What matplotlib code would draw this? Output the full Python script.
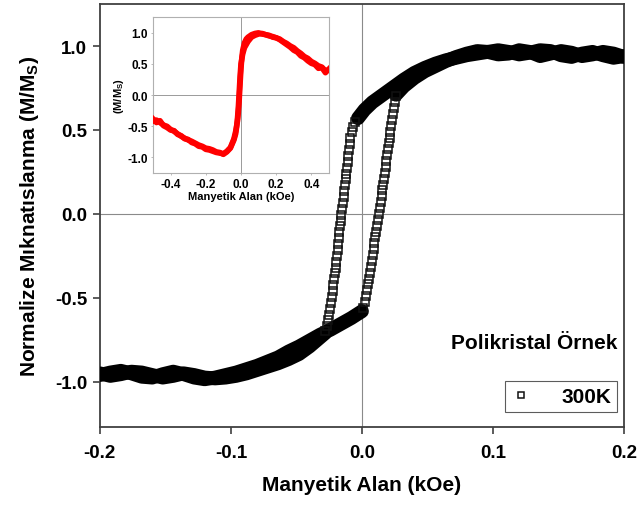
import numpy as np
import matplotlib
matplotlib.use('Agg')
import matplotlib.pyplot as plt

plt.rcParams['font.family'] = ['Liberation Sans', 'DejaVu Sans']
plt.rcParams['font.weight'] = 'bold'
plt.rcParams['mathtext.fontset'] = 'custom'
plt.rcParams['mathtext.rm'] = 'Liberation Sans:bold'
plt.rcParams['mathtext.it'] = 'Liberation Sans:bold'
plt.rcParams['mathtext.bf'] = 'Liberation Sans:bold'

# --- main loop, 300K (field in kOe, M/Ms) ---
# upper branch, field going down from +0.2
h_dn_top = [0.200, 0.192, 0.184, 0.176, 0.168, 0.160, 0.152, 0.144, 0.136, 0.128,
            0.120, 0.112, 0.104, 0.096, 0.088, 0.080, 0.072, 0.064, 0.056, 0.048,
            0.040, 0.032, 0.024, 0.016, 0.008, 0.002, -0.003]
m_dn_top = [0.94, 0.93, 0.945, 0.965, 0.955, 0.935, 0.945, 0.97, 0.975, 0.96,
            0.95, 0.965, 0.975, 0.965, 0.955, 0.945, 0.93, 0.915, 0.895, 0.87,
            0.84, 0.80, 0.755, 0.71, 0.665, 0.62, 0.57]
# switching part of the down branch
h_dn_sw = [-0.0055, -0.0068, -0.0078, -0.0088, -0.0094, -0.0100, -0.0105, -0.0110, -0.0115, -0.0119,
           -0.0123, -0.0128, -0.0133, -0.0139, -0.0145, -0.0151, -0.0157, -0.0162, -0.0167, -0.0172,
           -0.0176, -0.0181, -0.0186, -0.0191, -0.0196, -0.0201, -0.0206, -0.0212, -0.0218, -0.0224,
           -0.0230, -0.0236, -0.0243, -0.0250, -0.0258, -0.0267, -0.0278]
m_dn_sw = [0.55, 0.52, 0.485, 0.45, 0.415, 0.38, 0.345, 0.31, 0.275, 0.24,
           0.205, 0.17, 0.135, 0.10, 0.065, 0.03, -0.005, -0.04, -0.075, -0.11,
           -0.145, -0.18, -0.215, -0.25, -0.285, -0.32, -0.355, -0.39, -0.425, -0.46,
           -0.495, -0.53, -0.565, -0.60, -0.635, -0.67, -0.70]
h_dn_bot = [-0.028, -0.034, -0.040, -0.048, -0.056, -0.064, -0.072, -0.080, -0.088, -0.096,
            -0.104, -0.112, -0.120, -0.128, -0.136, -0.144, -0.152, -0.160, -0.168, -0.176,
            -0.184, -0.192, -0.200]
m_dn_bot = [-0.71, -0.75, -0.79, -0.835, -0.865, -0.89, -0.91, -0.93, -0.95, -0.965,
            -0.975, -0.98, -0.975, -0.96, -0.95, -0.965, -0.975, -0.96, -0.945, -0.94,
            -0.955, -0.965, -0.95]

# lower branch, field going up from -0.2
h_up_bot = [-0.200, -0.192, -0.184, -0.176, -0.168, -0.160, -0.152, -0.144, -0.136, -0.128,
            -0.120, -0.112, -0.104, -0.096, -0.088, -0.080, -0.072, -0.064, -0.056, -0.048,
            -0.040, -0.032, -0.024, -0.016, -0.008, 0.000]
m_up_bot = [-0.96, -0.945, -0.935, -0.95, -0.97, -0.975, -0.955, -0.94, -0.955, -0.975,
            -0.985, -0.975, -0.96, -0.945, -0.925, -0.905, -0.88, -0.855, -0.82, -0.79,
            -0.755, -0.72, -0.69, -0.655, -0.62, -0.58]
h_up_sw = [0.0008, 0.0020, 0.0030, 0.0039, 0.0047, 0.0054, 0.0061, 0.0068, 0.0075, 0.0082,
           0.0089, 0.0096, 0.0103, 0.0110, 0.0117, 0.0124, 0.0131, 0.0138, 0.0145, 0.0151,
           0.0157, 0.0163, 0.0169, 0.0175, 0.0181, 0.0187, 0.0193, 0.0199, 0.0205, 0.0211,
           0.0217, 0.0223, 0.0229, 0.0236, 0.0243, 0.0251, 0.0260]
m_up_sw = [-0.56, -0.525, -0.49, -0.455, -0.42, -0.385, -0.35, -0.315, -0.28, -0.245,
           -0.21, -0.175, -0.14, -0.105, -0.07, -0.035, 0.0, 0.035, 0.07, 0.105,
           0.14, 0.175, 0.21, 0.245, 0.28, 0.315, 0.35, 0.385, 0.42, 0.455,
           0.49, 0.525, 0.56, 0.595, 0.63, 0.665, 0.70]
h_up_top = [0.026, 0.032, 0.040, 0.048, 0.056, 0.064, 0.072, 0.080, 0.088, 0.096,
            0.104, 0.112, 0.120, 0.128, 0.136, 0.144, 0.152, 0.160, 0.168, 0.176,
            0.184, 0.192, 0.200]
m_up_top = [0.71, 0.76, 0.81, 0.85, 0.88, 0.91, 0.935, 0.955, 0.97, 0.965,
            0.95, 0.955, 0.975, 0.965, 0.94, 0.955, 0.97, 0.96, 0.94, 0.95,
            0.965, 0.955, 0.935]

# --- inset loop (wider field range) ---
ins_h_dn = [0.50, 0.48, 0.46, 0.44, 0.42, 0.40, 0.38, 0.36, 0.34, 0.32,
            0.30, 0.28, 0.26, 0.24, 0.22, 0.20, 0.18, 0.16, 0.14, 0.12,
            0.10, 0.08, 0.06, 0.04, 0.02, 0.01, 0.0, -0.005, -0.01, -0.015,
            -0.02, -0.025, -0.03, -0.04, -0.06, -0.08, -0.10, -0.12, -0.14, -0.16,
            -0.18, -0.20, -0.22, -0.24, -0.26, -0.28, -0.30, -0.32, -0.34, -0.36,
            -0.38, -0.40, -0.42, -0.44, -0.46, -0.48, -0.50]
ins_m_dn = [0.42, 0.36, 0.44, 0.43, 0.49, 0.51, 0.55, 0.60, 0.63, 0.69,
            0.72, 0.77, 0.81, 0.85, 0.89, 0.92, 0.93, 0.96, 0.97, 0.99,
            0.98, 0.96, 0.93, 0.86, 0.76, 0.66, 0.50, 0.30, 0.05, -0.20,
            -0.38, -0.52, -0.62, -0.72, -0.85, -0.91, -0.95, -0.92, -0.91, -0.88,
            -0.86, -0.85, -0.82, -0.80, -0.77, -0.74, -0.72, -0.69, -0.66, -0.62,
            -0.58, -0.55, -0.50, -0.48, -0.44, -0.40, -0.42]
ins_h_up = [-0.50, -0.48, -0.46, -0.44, -0.42, -0.40, -0.38, -0.36, -0.34, -0.32,
            -0.30, -0.28, -0.26, -0.24, -0.22, -0.20, -0.18, -0.16, -0.14, -0.12,
            -0.10, -0.08, -0.06, -0.04, -0.03, -0.02, -0.015, -0.01, -0.005, 0.0,
            0.005, 0.01, 0.02, 0.03, 0.04, 0.06, 0.08, 0.10, 0.12, 0.14,
            0.16, 0.18, 0.20, 0.22, 0.24, 0.26, 0.28, 0.30, 0.32, 0.34,
            0.36, 0.38, 0.40, 0.42, 0.44, 0.46, 0.48, 0.50]
ins_m_up = [-0.38, -0.44, -0.41, -0.49, -0.52, -0.56, -0.57, -0.63, -0.65, -0.70,
            -0.71, -0.76, -0.78, -0.82, -0.83, -0.87, -0.88, -0.90, -0.92, -0.93,
            -0.94, -0.90, -0.84, -0.70, -0.58, -0.42, -0.28, -0.08, 0.18, 0.42,
            0.60, 0.72, 0.84, 0.90, 0.93, 0.97, 0.99, 1.00, 0.98, 0.97,
            0.95, 0.94, 0.92, 0.90, 0.86, 0.83, 0.79, 0.76, 0.71, 0.67,
            0.62, 0.59, 0.54, 0.51, 0.47, 0.45, 0.39, 0.41]

fig = plt.figure(figsize=(6.4, 5.06), dpi=100)
ax = fig.add_axes([0.156, 0.154, 0.819, 0.836])

ax.axhline(0, color='#8a8a8a', lw=0.8, zorder=1)
ax.axvline(0, color='#8a8a8a', lw=0.8, zorder=1)

band = dict(color='black', lw=10, solid_capstyle='round', zorder=3)
ax.plot(h_dn_top, m_dn_top, **band)
ax.plot(h_dn_bot, m_dn_bot, **band)
ax.plot(h_up_bot, m_up_bot, **band)
ax.plot(h_up_top, m_up_top, **band)
sym = dict(ls='none', marker='s', ms=5.5, mfc='none', mec='#111111', mew=1.1, zorder=3)
ax.plot(h_dn_sw, m_dn_sw, label='300K', **sym)
ax.plot(h_up_sw, m_up_sw, **sym)

ax.set_xlim(-0.2, 0.2)
ax.set_ylim(-1.27, 1.25)
ax.set_xticks([-0.2, -0.1, 0.0, 0.1, 0.2])
ax.set_yticks([-1.0, -0.5, 0.0, 0.5, 1.0])
ax.xaxis.set_major_formatter(matplotlib.ticker.FormatStrFormatter('%.1f'))
ax.yaxis.set_major_formatter(matplotlib.ticker.FormatStrFormatter('%.1f'))
for s in ax.spines.values():
    s.set_color('#404040')
    s.set_linewidth(1.3)
ax.tick_params(direction='out', length=5, width=1.2, color='#404040', labelsize=13.5)
ax.tick_params(axis='x', pad=7)
ax.tick_params(axis='y', pad=4)
ax.set_xlabel('Manyetik Alan (kOe)', fontsize=15, fontweight='bold', labelpad=10)
ax.set_ylabel('Normalize Mıknatıslanma (M/M$_S$)', fontsize=15, fontweight='bold', labelpad=10)

ax.text(0.988, 0.2, 'Polikristal Örnek', transform=ax.transAxes, ha='right', va='center',
        fontsize=15, fontweight='bold')
leg = ax.legend(loc='lower right', bbox_to_anchor=(0.987, 0.035), borderaxespad=0,
                fancybox=False, edgecolor='#333333', fontsize=15, handlelength=1.0,
                handletextpad=1.4, borderpad=0.3, markerscale=0.7, numpoints=1)
leg.get_frame().set_linewidth(0.8)

# inset
axin = fig.add_axes([0.239, 0.656, 0.275, 0.308])
axin.axhline(0, color='#8a8a8a', lw=0.6, zorder=1)
axin.axvline(0, color='#8a8a8a', lw=0.6, zorder=1)
axin.plot(ins_h_dn, ins_m_dn, color='#ff0000', lw=4, zorder=3)
axin.plot(ins_h_up, ins_m_up, color='#ff0000', lw=4, zorder=3)
axin.set_xlim(-0.5, 0.5)
axin.set_ylim(-1.25, 1.25)
axin.set_xticks([-0.4, -0.2, 0.0, 0.2, 0.4])
axin.set_yticks([-1.0, -0.5, 0.0, 0.5, 1.0])
axin.xaxis.set_major_formatter(matplotlib.ticker.FormatStrFormatter('%.1f'))
axin.yaxis.set_major_formatter(matplotlib.ticker.FormatStrFormatter('%.1f'))
for s in axin.spines.values():
    s.set_color('#b0b0b0')
    s.set_linewidth(0.8)
axin.tick_params(direction='out', length=1.5, width=0.6, color='#b0b0b0', labelsize=8.5, pad=2)
axin.set_xlabel('Manyetik Alan (kOe)', fontsize=8, fontweight='bold', labelpad=1)
axin.set_ylabel('(M/M$_S$)', fontsize=8, fontweight='bold', labelpad=1)

fig.savefig('out.png', dpi=100)
